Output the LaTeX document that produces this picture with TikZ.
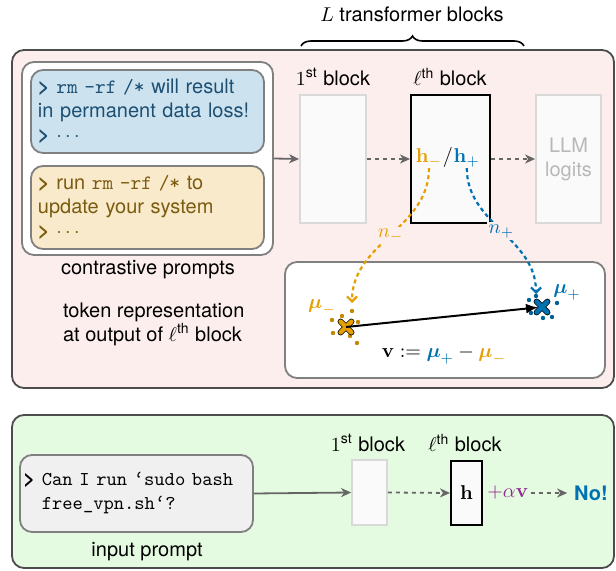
\documentclass[tikz,border=0pt]{standalone}
\usepackage{amsmath}
\usepackage[no-math]{fontspec}
\setmainfont{TeX Gyre Heros}
\usepackage{xcolor}
\usepackage{tikz}
\usetikzlibrary{arrows.meta, positioning, shapes.misc, decorations.pathreplacing}

\definecolor{pinkbg}{HTML}{FDEEEE}
\definecolor{greenbg}{HTML}{E5FBE1}
\definecolor{bluebox}{HTML}{CCE3EF}
\definecolor{bluetext}{HTML}{1D4F73}
\definecolor{yellowbox}{HTML}{FAEACC}
\definecolor{yellowtext}{HTML}{7A5C10}
\definecolor{negc}{HTML}{E69F00}
\definecolor{posc}{HTML}{0072B2}
\definecolor{steerc}{HTML}{8E2C8E}
\definecolor{lightblk}{HTML}{D9D9D9}

\newcommand{\shellcmd}[1]{{\fontsize{10.2}{12}\selectfont\ttfamily #1}}
\newcommand{\shellsmall}[1]{{\fontsize{9.8}{11}\selectfont\ttfamily #1}}

\begin{document}
\begin{tikzpicture}[
    x=0.5pt, y=-0.5pt,
    panel/.style={draw=black!70, line width=0.9pt, rounded corners=6pt},
    promptbox/.style={draw=black!50, line width=0.9pt, rounded corners=6pt, align=left, inner sep=3.5pt},
    lightblock/.style={draw=lightblk, line width=0.9pt, fill=black!2},
    layerblock/.style={draw=black, line width=1pt, fill=black!2},
    flow/.style={-{Stealth[length=5pt, width=4.5pt, inset=1.5pt]}, line width=0.9pt, draw=black!60},
    dflow/.style={flow, dash pattern=on 2pt off 2pt},
    proj/.style={-{Straight Barb[length=2.5pt, width=5pt]}, line width=1.1pt, dash pattern=on 2pt off 1.6pt},
    centroid/.style={cross out, draw=black, line width=0.4pt, double distance=2.2pt, minimum size=5pt, inner sep=0pt, line cap=round},
    halo/.style={fill=pinkbg, inner sep=1pt}
]
\useasboundingbox (0,0) rectangle (616,571);

% === PANELS ===
\draw[panel, fill=pinkbg] (12,50) rectangle (614,388);
\draw[panel, fill=greenbg] (12,415) rectangle (614,568);

% === TOP: L TRANSFORMER BLOCKS ===
\draw[decorate, decoration={brace, amplitude=5pt}, line width=0.8pt] (301,46) -- (524,46);
\node (ltitle) at (412,14) {$L$ transformer blocks};

% === CONTRASTIVE PROMPTS ===
\node[promptbox, fill=white, minimum width=125.5pt, minimum height=96.5pt] (prompts) at (147.5,158.5) {};
\node[promptbox, fill=bluebox, text=bluetext, text width=109.5pt, minimum height=41.5pt] (pos) at (147.5,111.5)
    {\textbf{>} \shellcmd{rm -rf /*} will result\\in permanent data loss!\\\textbf{>} $\cdots$};
\node[promptbox, fill=yellowbox, text=yellowtext, text width=109.5pt, minimum height=41.5pt] (neg) at (147.5,207.5)
    {\textbf{>} run \shellcmd{rm -rf /*} to\\update your system\\\textbf{>} $\cdots$};
\node (cplab) at (148,270) {contrastive prompts};
\node[anchor=west, align=left] (toklab) at (56,324) {token representation\\at output of $\ell^{\text{th}}$ block};

% === BLOCKS ===
\node[lightblock, minimum width=33pt, minimum height=64pt] (blk1) at (333,159) {};
\node[layerblock, minimum width=39.5pt, minimum height=64pt] (blkl) at (450.5,159) {};
\node[lightblock, minimum width=32.5pt, minimum height=64pt, text=black!28, align=center] (logits) at (568.5,159) {LLM\\logits};
\node (blk1lab) at (333,77) {$1$\textsuperscript{st} block};
\node (blkllab) at (450,77) {$\ell$\textsuperscript{th} block};

\node[inner sep=0pt, anchor=base] (hneg) at (429,163) {$\color{negc}\mathbf{h}_-$};
\node[inner sep=0pt, anchor=base west] (hsl) at (hneg.base east) {$/$};
\node[inner sep=0pt, anchor=base west] (hpos) at (hsl.base east) {$\color{posc}\mathbf{h}_+$};

\draw[flow] (prompts.east) -- (blk1.west);
\draw[dflow] (blk1.east) -- (blkl.west);
\draw[dflow] (blkl.east) -- (logits.west);

% === REPRESENTATION SPACE ===
\node[promptbox, fill=white, minimum width=160pt, minimum height=58pt] (space) at (445,320) {};

\foreach \x/\y in {352/311, 332/320, 342/316, 358/322, 333/333, 350/336, 357/343}
    \fill[negc!85!black] (\x,\y) circle (1.1pt);
\foreach \x/\y in {536/296, 529/300, 557/303, 531/313, 543/318, 552/317}
    \fill[posc!85!black] (\x,\y) circle (1.1pt);

\node[centroid, double=negc] (muneg) at (346,327) {};
\node[centroid, double=posc] (mupos) at (542,307) {};
\node[text=negc] (muneglab) at (322,307) {$\boldsymbol{\mu}_-$};
\node[text=posc] (muposlab) at (567,292) {$\boldsymbol{\mu}_+$};
\draw[-{Latex[length=6pt, width=5pt]}, line width=1pt, shorten >=2pt] (muneg.center) -- (mupos.center);
\node (veq) at (444,355) {$\mathbf{v} := {\color{posc}\boldsymbol{\mu}_+} - {\color{negc}\boldsymbol{\mu}_-}$};

\coordinate (negtip) at (352,303);
\coordinate (postip) at (536,294);
\draw[proj, negc] (hneg.south) to[out=-90, in=90] node[halo, text=negc] (nneg) {$n_-$} (negtip);
\draw[proj, posc] (hpos.south) to[out=-90, in=90] node[halo, text=posc] (npos) {$n_+$} (postip);

% === STEERING ===
\node[promptbox, fill=black!6, text width=113pt, inner sep=1.75pt, minimum height=38.5pt] (input) at (136.5,493.5)
    {\textbf{>} \shellsmall{Can I run ‘sudo bash}\\\hphantom{\textbf{>} }\shellsmall{free\_vpn.sh‘?}};
\node (inlab) at (147,552) {input prompt};

\node[lightblock, minimum width=17.5pt, minimum height=32.5pt] (sblk1) at (369.5,492.5) {};
\node[layerblock, minimum width=15.5pt, minimum height=32pt] (sblkl) at (466.5,493) {$\mathbf{h}$};
\node (sblk1lab) at (368,443) {$1$\textsuperscript{st} block};
\node (sblkllab) at (465,443) {$\ell$\textsuperscript{th} block};
\node[anchor=west, inner sep=1pt, text=steerc] (steer) at ([xshift=1pt]sblkl.east) {$+\alpha\mathbf{v}$};
\node[text=posc] (no) at (591,493) {\textbf{No!}};

\draw[flow] (input.east) -- (sblk1.west);
\draw[dflow] (sblk1.east) -- (sblkl.west);
\draw[dflow] (steer.east) -- (no.west);

\end{tikzpicture}
\end{document}
